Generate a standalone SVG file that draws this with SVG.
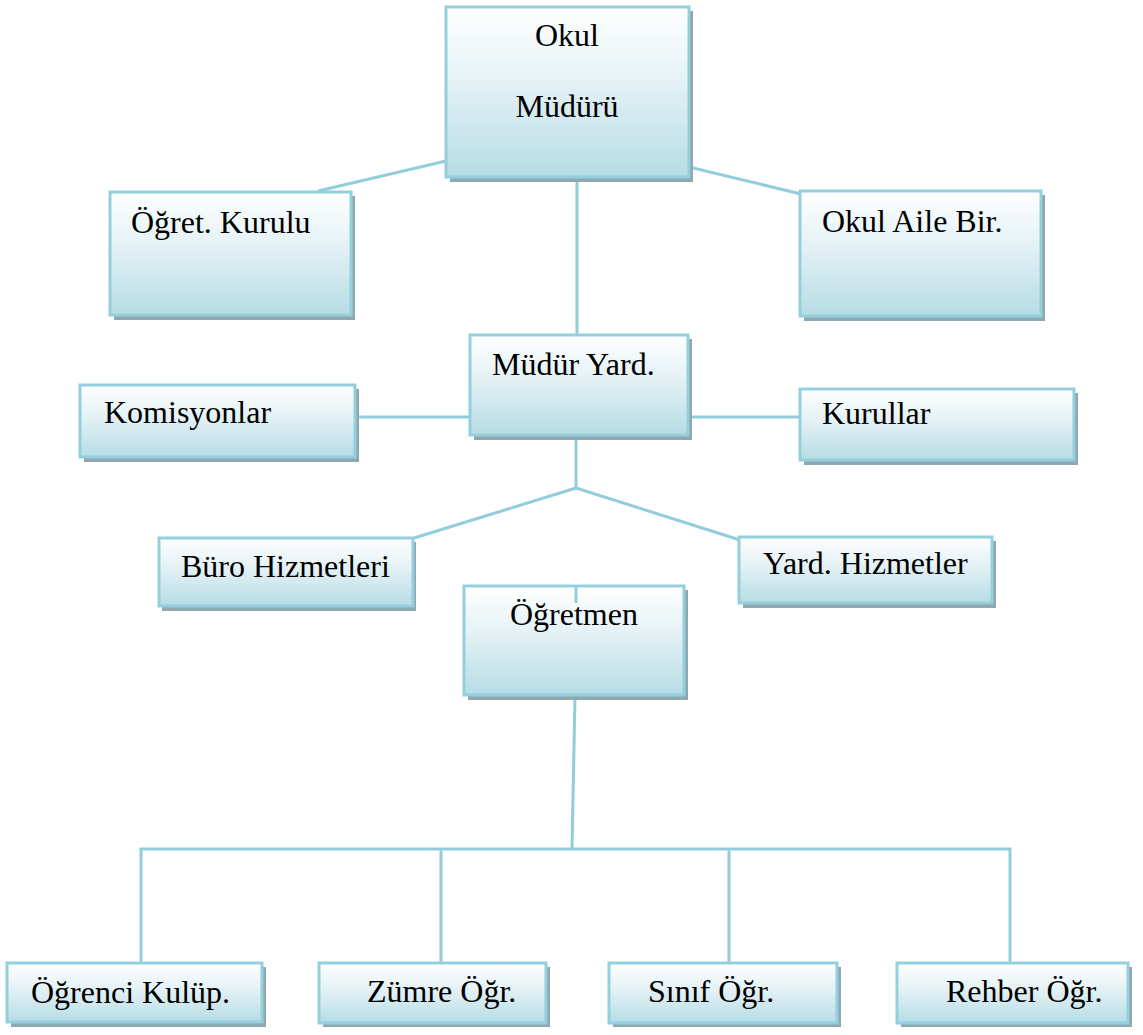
<svg xmlns="http://www.w3.org/2000/svg" width="1143" height="1035" viewBox="0 0 1143 1035">
<defs>
<linearGradient id="g" x1="0" y1="0" x2="0" y2="1">
<stop offset="0" stop-color="#ffffff"/>
<stop offset="0.45" stop-color="#e3f1f5"/>
<stop offset="1" stop-color="#b6dce5"/>
</linearGradient>
</defs>
<style>
.sh{fill:#8fa8b0}
.bx{fill:url(#g);stroke:#93cfdd;stroke-width:3}
.c{fill:none;stroke:#92cddb;stroke-width:3}
</style>
<rect width="1143" height="1035" fill="#fff"/>
<g id="connectors">
<line class="c" x1="446" y1="161" x2="318" y2="191"/>
<line class="c" x1="689" y1="167" x2="801" y2="194"/>
<line class="c" x1="577" y1="177" x2="577" y2="336"/>
<line class="c" x1="355" y1="417" x2="471" y2="417"/>
<line class="c" x1="688" y1="417" x2="800" y2="417"/>
<line class="c" x1="576" y1="435" x2="576" y2="488"/>
<line class="c" x1="576" y1="488" x2="414" y2="538"/>
<line class="c" x1="576" y1="488" x2="740" y2="540"/>
<line class="c" x1="575" y1="697" x2="572" y2="849"/>
<polyline class="c" points="141,963 141,849 1010,849 1010,963"/>
<line class="c" x1="441" y1="849" x2="441" y2="963"/>
<line class="c" x1="729" y1="849" x2="729" y2="963"/>
</g>
<g font-family="Liberation Serif, Times New Roman, serif" font-size="32" fill="#000">
<g id="n-okul-muduru">
<rect class="sh" x="450" y="11" width="243" height="171"/>
<rect class="bx" x="446" y="7" width="243" height="170"/>
<text x="567" y="46" text-anchor="middle" font-family="Liberation Serif" font-size="32">Okul</text>
<text x="567" y="117" text-anchor="middle" font-family="Liberation Serif" font-size="32">Müdürü</text>
</g>
<g id="n-ogret-kurulu">
<rect class="sh" x="114" y="196" width="241" height="124"/>
<rect class="bx" x="110" y="192" width="241" height="123"/>
<text x="131" y="233" font-family="Liberation Serif" font-size="32">Öğret. Kurulu</text>
</g>
<g id="n-okul-aile">
<rect class="sh" x="804" y="195" width="241" height="126"/>
<rect class="bx" x="800" y="191" width="241" height="125"/>
<text x="822" y="232" font-family="Liberation Serif" font-size="32">Okul Aile Bir.</text>
</g>
<g id="n-mudur-yard">
<rect class="sh" x="474" y="339" width="218" height="101"/>
<rect class="bx" x="470" y="335" width="218" height="100"/>
<text x="492" y="375" font-family="Liberation Serif" font-size="32">Müdür Yard.</text>
</g>
<g id="n-komisyonlar">
<rect class="sh" x="84" y="389" width="275" height="73"/>
<rect class="bx" x="80" y="385" width="275" height="72"/>
<text x="104" y="423" font-family="Liberation Serif" font-size="32">Komisyonlar</text>
</g>
<g id="n-kurullar">
<rect class="sh" x="804" y="393" width="274" height="72"/>
<rect class="bx" x="800" y="389" width="274" height="71"/>
<text x="822" y="424" font-family="Liberation Serif" font-size="32">Kurullar</text>
</g>
<g id="n-buro">
<rect class="sh" x="162" y="542" width="254" height="69"/>
<rect class="bx" x="159" y="538" width="254" height="68"/>
<text x="181" y="577" font-family="Liberation Serif" font-size="32">Büro Hizmetleri</text>
</g>
<g id="n-yard-hizmet">
<rect class="sh" x="743" y="541" width="253" height="67"/>
<rect class="bx" x="739" y="537" width="253" height="66"/>
<text x="763" y="574" font-family="Liberation Serif" font-size="32">Yard. Hizmetler</text>
</g>
<g id="n-ogretmen">
<rect class="sh" x="468" y="590" width="220" height="110"/>
<rect class="bx" x="464" y="586" width="220" height="109"/>
<line class="c" x1="576" y1="586" x2="576" y2="603"/>
<text x="510" y="625" font-family="Liberation Serif" font-size="32">Öğretmen</text>
</g>
<g id="n-ogrenci-kulup">
<rect class="sh" x="11" y="967" width="255" height="60"/>
<rect class="bx" x="7" y="963" width="255" height="59"/>
<text x="31" y="1003" font-family="Liberation Serif" font-size="32">Öğrenci Kulüp.</text>
</g>
<g id="n-zumre">
<rect class="sh" x="323" y="967" width="227" height="60"/>
<rect class="bx" x="319" y="963" width="227" height="60"/>
<text x="367" y="1002" font-family="Liberation Serif" font-size="32">Zümre Öğr.</text>
</g>
<g id="n-sinif">
<rect class="sh" x="613" y="967" width="228" height="60"/>
<rect class="bx" x="609" y="963" width="228" height="60"/>
<text x="648" y="1002" font-family="Liberation Serif" font-size="32">Sınıf Öğr.</text>
</g>
<g id="n-rehber">
<rect class="sh" x="901" y="967" width="231" height="60"/>
<rect class="bx" x="897" y="963" width="231" height="60"/>
<text x="946" y="1002" font-family="Liberation Serif" font-size="32">Rehber Öğr.</text>
</g>
</g>
</svg>
